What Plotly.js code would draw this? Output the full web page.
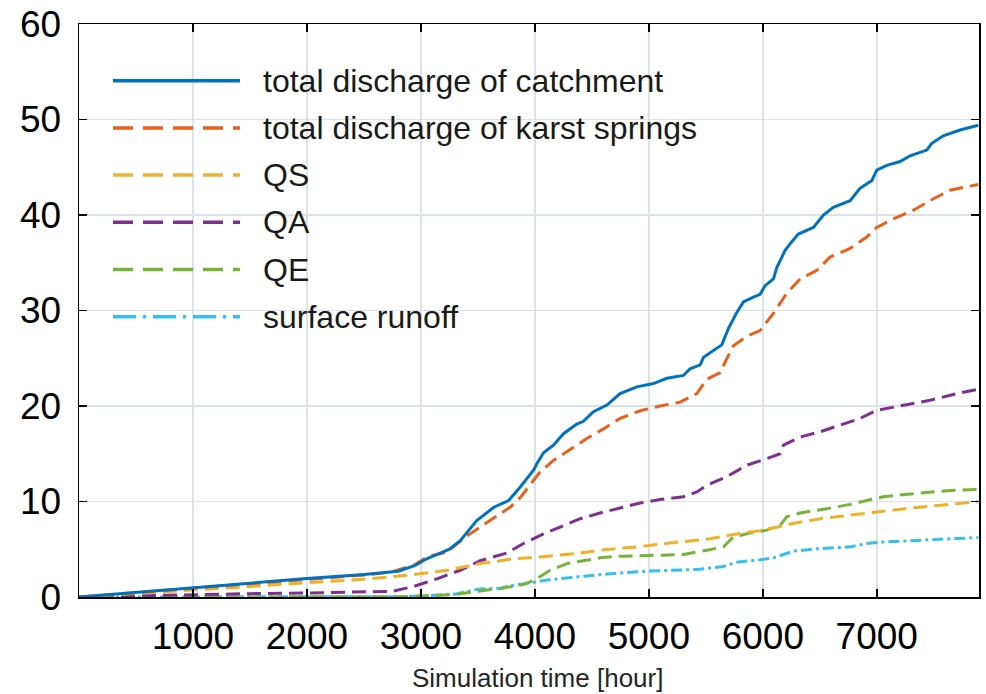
<!DOCTYPE html>
<html>
<head>
<meta charset="utf-8">
<script src="https://cdn.plot.ly/plotly-3.0.1.min.js"></script>
<style>html,body{margin:0;padding:0;background:#fff;}#chart{width:986px;height:694px;}</style>
</head>
<body>
<div id="chart"></div>
<script>
// ---- data ----
const seriesNames = ["total discharge of catchment", "total discharge of karst springs", "QS", "QA", "QE", "surface runoff"];

const catchmentX = [0, 500, 1000, 1500, 2000, 2500, 2800, 2950, 3050, 3190, 3250, 3345, 3490, 3640, 3770, 3870, 3990, 4020, 4076, 4163, 4251, 4368, 4426, 4514, 4632, 4748, 4895, 5040, 5158, 5304, 5362, 5450, 5480, 5640, 5698, 5772, 5830, 5918, 5976, 6020, 6093, 6123, 6196, 6240, 6312, 6444, 6532, 6619, 6766, 6853, 6956, 7000, 7088, 7205, 7292, 7439, 7483, 7584, 7731, 7891];
const catchmentY = [0, 0.5, 1.0, 1.5, 1.93, 2.35, 2.7, 3.3, 4.0, 4.7, 5.0, 5.9, 8.0, 9.4, 10.1, 11.5, 13.3, 14.0, 15.1, 15.9, 17.1, 18.1, 18.4, 19.4, 20.1, 21.3, 22.0, 22.35, 22.9, 23.2, 23.9, 24.3, 25.1, 26.4, 28.1, 29.8, 30.9, 31.4, 31.7, 32.6, 33.3, 34.5, 36.3, 37.0, 38.0, 38.7, 40.0, 40.8, 41.5, 42.8, 43.6, 44.7, 45.2, 45.6, 46.2, 46.8, 47.5, 48.3, 48.9, 49.4];

const karstX = [0, 500, 1000, 1500, 2000, 2500, 2730, 2935, 3053, 3228, 3404, 3520, 3667, 3783, 3871, 3959, 4046, 4163, 4310, 4456, 4602, 4748, 4924, 5099, 5275, 5421, 5509, 5625, 5669, 5742, 5860, 5976, 6093, 6210, 6327, 6474, 6591, 6766, 6912, 7000, 7146, 7321, 7497, 7643, 7891];
const karstY = [0, 0.45, 0.9, 1.4, 1.85, 2.3, 2.6, 3.3, 4.2, 4.7, 6.4, 7.3, 8.5, 9.4, 10.4, 11.8, 13.1, 14.3, 15.5, 16.6, 17.6, 18.7, 19.5, 20.0, 20.4, 21.3, 22.8, 23.5, 24.6, 26.3, 27.3, 27.9, 29.7, 31.8, 33.3, 34.2, 35.6, 36.5, 37.7, 38.7, 39.6, 40.5, 41.7, 42.6, 43.2];

const qsX = [0, 500, 1000, 1500, 2000, 2500, 2900, 3228, 3520, 3812, 4046, 4368, 4602, 4895, 5187, 5537, 5742, 5976, 6123, 6240, 6503, 6795, 7000, 7292, 7584, 7891];
const qsY = [0, 0.35, 0.7, 1.1, 1.5, 1.85, 2.3, 2.8, 3.5, 4.0, 4.2, 4.55, 4.95, 5.25, 5.65, 6.1, 6.55, 6.95, 7.3, 7.65, 8.2, 8.65, 8.9, 9.3, 9.65, 10.0];

const qaX = [0, 500, 1000, 1500, 2000, 2500, 2750, 2935, 3140, 3345, 3520, 3754, 3900, 4076, 4222, 4397, 4573, 4748, 4924, 5099, 5304, 5421, 5509, 5684, 5860, 6035, 6152, 6181, 6327, 6503, 6678, 6853, 7000, 7234, 7468, 7702, 7891];
const qaY = [0, 0.12, 0.28, 0.35, 0.42, 0.5, 0.6, 1.1, 1.9, 2.8, 3.8, 4.6, 5.6, 6.6, 7.3, 8.2, 8.8, 9.35, 9.85, 10.2, 10.5, 11.0, 11.7, 12.6, 13.8, 14.5, 15.0, 15.9, 16.75, 17.3, 18.0, 18.7, 19.55, 20.05, 20.6, 21.3, 21.75];

const qeX = [0, 1000, 2000, 2800, 3000, 3300, 3500, 3700, 3900, 4002, 4134, 4281, 4426, 4573, 4719, 5012, 5304, 5509, 5655, 5742, 5889, 6035, 6152, 6210, 6327, 6561, 6766, 6912, 7058, 7351, 7643, 7891];
const qeY = [0, 0, 0, 0.02, 0.1, 0.25, 0.6, 0.9, 1.3, 1.8, 2.8, 3.5, 3.8, 4.1, 4.25, 4.35, 4.45, 4.9, 5.25, 6.3, 6.7, 7.0, 7.5, 8.4, 8.8, 9.25, 9.7, 10.1, 10.5, 10.85, 11.15, 11.25];

const surfaceX = [0, 1000, 2000, 2800, 3000, 3300, 3520, 3696, 3754, 3930, 3988, 4134, 4426, 4719, 5012, 5304, 5450, 5655, 5772, 5976, 6093, 6269, 6474, 6766, 6912, 7058, 7351, 7643, 7891];
const surfaceY = [0, 0, 0, 0.03, 0.1, 0.3, 0.85, 0.9, 1.1, 1.45, 1.55, 1.82, 2.17, 2.5, 2.72, 2.8, 2.9, 3.2, 3.65, 3.9, 4.1, 4.8, 5.05, 5.25, 5.6, 5.75, 5.95, 6.1, 6.22];

const xTickVals = [1000, 2000, 3000, 4000, 5000, 6000, 7000];
const xTickText = ["1000", "2000", "3000", "4000", "5000", "6000", "7000"];
const yTickVals = [0, 10, 20, 30, 40, 50, 60];
const xTitle = "Simulation time [hour]";

// ---- styles ----
const colors = ["#0072BD", "#E8601C", "#F0B128", "#7E2F8E", "#77B33A", "#35BFF0"];
const plotDash = ["solid", "14px,7px", "14px,7px", "14px,7px", "14px,7px", "11px,4px,3px,4px"];
const legendDash = ["solid", "20px,10px", "20px,10px", "20px,10px", "20px,10px", "23px,7px,3px,7px"];
const xs = [catchmentX, karstX, qsX, qaX, qeX, surfaceX];
const ys = [catchmentY, karstY, qsY, qaY, qeY, surfaceY];

const traces = [];
for (let i = xs.length - 1; i >= 0; i--) {
  traces.push({
    type: "scatter", mode: "lines", name: seriesNames[i],
    x: xs[i], y: ys[i],
    line: {color: colors[i], width: 3, dash: plotDash[i], shape: "linear"},
    showlegend: false, hoverinfo: "skip"
  });
}

// custom legend (long line samples like the reference)
const L = 79, R = 979, T = 24, B = 597;
const W = R - L, H = B - T;
const px2x = p => (p - L) / W;
const py2y = p => (B - p) / H;
const shapes = [], annotations = [];
for (let i = 0; i < seriesNames.length; i++) {
  const py = 80.7 + i * 47.2;
  shapes.push({type: "line", xref: "paper", yref: "paper",
    x0: px2x(113), x1: px2x(240), y0: py2y(py), y1: py2y(py),
    line: {color: colors[i], width: 3.5, dash: legendDash[i]}});
  annotations.push({xref: "paper", yref: "paper", x: px2x(261), y: py2y(py),
    xanchor: "left", yanchor: "middle", showarrow: false, text: seriesNames[i],
    font: {family: "Liberation Sans, Arial, sans-serif", size: 32, color: "#1a1a1a"}});
}
// x-axis title placed like the reference (slightly right of plot centre)
annotations.push({xref: "paper", yref: "paper", x: px2x(537), y: py2y(678),
  xanchor: "center", yanchor: "middle", showarrow: false, text: xTitle,
  font: {family: "Liberation Sans, Arial, sans-serif", size: 26, color: "#262626"}});

const axisCommon = {
  showline: true, linecolor: "#000", linewidth: 1.5, mirror: "ticks",
  ticks: "inside", ticklen: 8, tickwidth: 1.5, tickcolor: "#000",
  showgrid: true, gridcolor: "#dbe2e8", gridwidth: 1.5, zeroline: false,
  tickfont: {family: "Liberation Sans, Arial, sans-serif", size: 37, color: "#000"}
};

const layout = {
  width: 986, height: 694,
  margin: {l: L, r: 986 - R, t: T, b: 694 - B, pad: 0},
  paper_bgcolor: "#fff", plot_bgcolor: "#fff",
  showlegend: false,
  xaxis: Object.assign({}, axisCommon, {
    range: [0, 7897], tickmode: "array", tickvals: xTickVals, ticktext: xTickText,
    ticklabelstandoff: 6
  }),
  yaxis: Object.assign({}, axisCommon, {
    range: [0, 60], tickmode: "array", tickvals: yTickVals, ticklabelstandoff: 9
  }),
  shapes: shapes, annotations: annotations
};

Plotly.newPlot("chart", traces, layout, {displayModeBar: false, staticPlot: true});
</script>
</body>
</html>
